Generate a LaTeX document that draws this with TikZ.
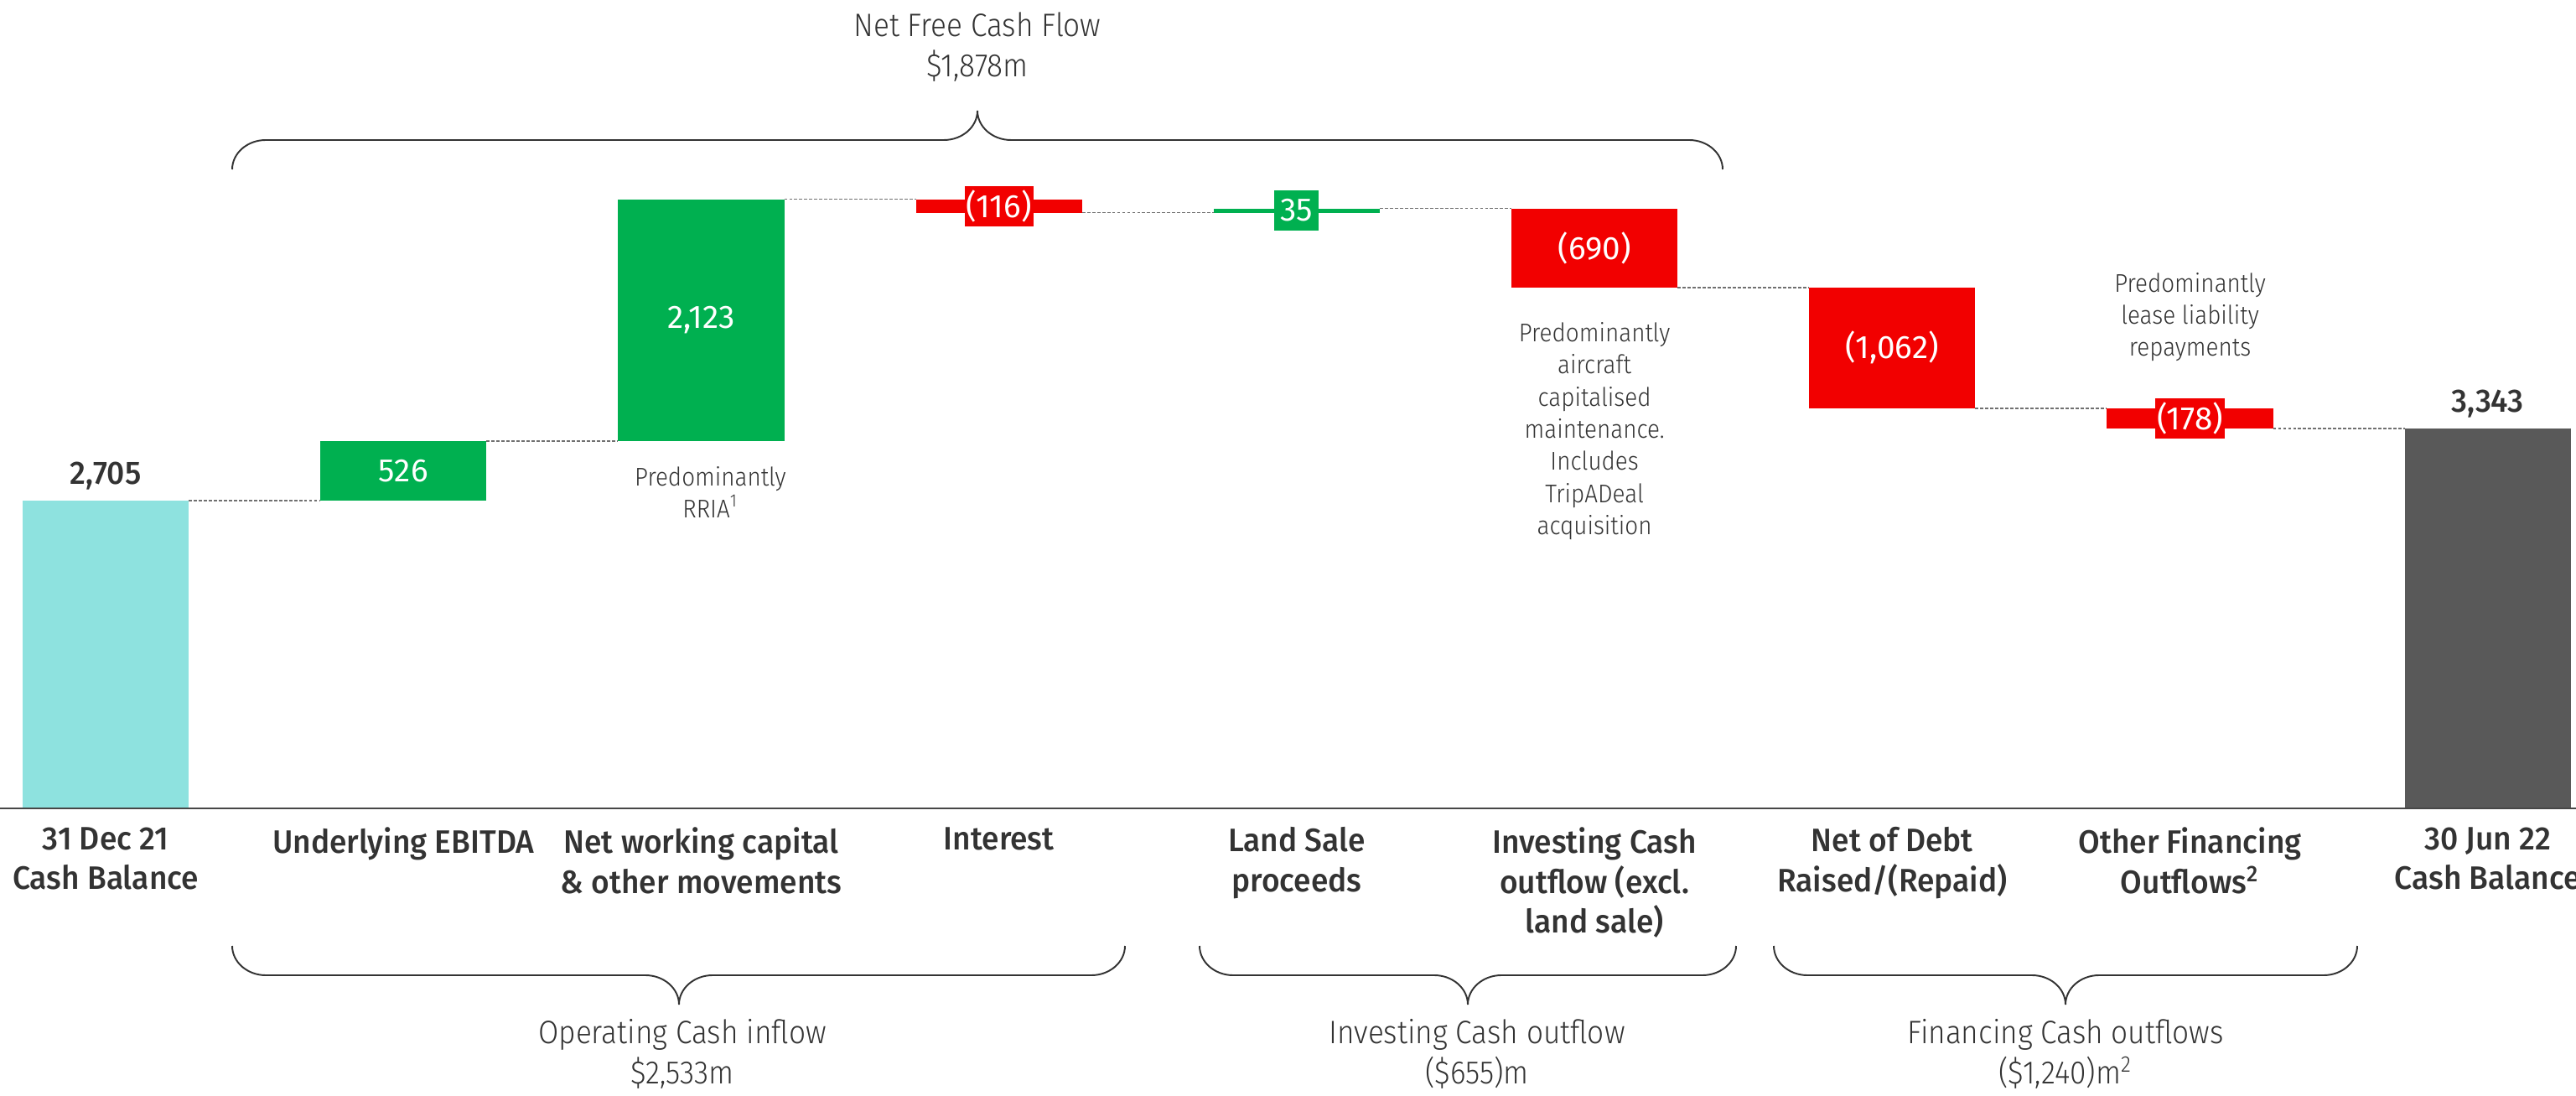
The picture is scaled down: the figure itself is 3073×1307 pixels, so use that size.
\documentclass[tikz,border=0pt]{standalone}
\usepackage{fontspec}
\setmainfont{Fira Sans}
\newfontfamily\lightfont{Fira Sans Light}[FakeStretch=0.91]
\newfontfamily\medfont{Fira Sans Medium}[FakeStretch=0.96]
\usepackage{xcolor}
\usepackage{tikz}
\usetikzlibrary{positioning, calc}

\definecolor{cashcyan}{HTML}{8EE2DF}
\definecolor{gaingreen}{HTML}{00B050}
\definecolor{lossred}{HTML}{F20000}
\definecolor{closegray}{HTML}{595959}
\definecolor{inkgray}{HTML}{333333}
\definecolor{dashgray}{HTML}{707070}

\tikzset{
  wfbar/.style={draw=none, minimum width=1.98cm, inner sep=0pt, outer sep=0pt, text=white, font=\fontsize{11}{13.2}\selectfont},
  tagbox/.style={inner xsep=0.02cm, inner ysep=0pt, outer sep=0pt, minimum height=0.48cm, minimum width=0.53cm, text=white, font=\fontsize{11}{13.2}\selectfont},
  wflink/.style={dashgray, line width=0.5pt, dash pattern=on 1.1pt off 0.6pt},
  catlabel/.style={anchor=north, align=center, inner sep=0pt, text=inkgray, font=\medfont\fontsize{11}{13.5}\selectfont},
  totallabel/.style={inner sep=0pt, text depth=0pt, text=inkgray, font=\medfont\fontsize{11}{13.2}\selectfont},
  notetext/.style={align=center, inner sep=0pt, text=inkgray, font=\lightfont\fontsize{8.7}{10.9}\selectfont},
  bracelabel/.style={align=center, inner sep=0pt, text=inkgray, font=\lightfont\fontsize{11}{13.6}\selectfont},
  bracepath/.style={draw=inkgray, line width=0.55pt},
}

% brace: name, left x, tip x, right x, end y, half height
\newcommand{\cashbrace}[6]{%
  \draw[bracepath] (#2,#5) .. controls (#2,{#5+0.55*(#6)}) and ({#2+18},{#5+(#6)}) .. ({#2+40},{#5+(#6)})
    -- ({#3-40},{#5+(#6)}) .. controls ({#3-18},{#5+(#6)}) and (#3,{#5+1.45*(#6)}) .. (#3,{#5+2*(#6)})
    .. controls (#3,{#5+1.45*(#6)}) and ({#3+18},{#5+(#6)}) .. ({#3+40},{#5+(#6)})
    -- ({#4-40},{#5+(#6)}) .. controls ({#4-18},{#5+(#6)}) and (#4,{#5+0.55*(#6)}) .. (#4,#5);
  \coordinate (#1) at (#3,{#5+2*(#6)});
}

\begin{document}
\begin{tikzpicture}[x=0.01cm, y=-0.01cm, node distance=1.57cm]
    \useasboundingbox (0,0) rectangle (3073,1307);

    % Waterfall bars, each one hung from the end of the previous
    \node [wfbar, fill=cashcyan, minimum height=3.67cm, anchor=south west] (open) at (27,964) {};
    \node [wfbar, fill=gaingreen, minimum height=0.71cm, right=of open.north east, anchor=south west] (ebitda) {526};
    \node [wfbar, fill=gaingreen, minimum height=2.88cm, right=of ebitda.north east, anchor=south west] (nwc) {2,123};
    \node [wfbar, fill=lossred, minimum height=0.16cm, right=of nwc.north east, anchor=north west] (interest) {};
    \node [wfbar, fill=gaingreen, minimum height=0.05cm, right=of interest.south east, anchor=south west] (land) {};
    \node [wfbar, fill=lossred, minimum height=0.94cm, right=of land.north east, anchor=north west] (invest) {(690)};
    \node [wfbar, fill=lossred, minimum height=1.44cm, right=of invest.south east, anchor=north west] (debt) {(1,062)};
    \node [wfbar, fill=lossred, minimum height=0.24cm, right=of debt.south east, anchor=north west] (other) {};
    \node [wfbar, fill=closegray, minimum height=4.52cm, right=of other.south east, anchor=north west] (close) {};

    % Value tags on the thin bars
    \node [tagbox, fill=lossred] (interesttag) at (interest) {(116)};
    \node [tagbox, fill=gaingreen] (landtag) at (land) {35};
    \node [tagbox, fill=lossred] (othertag) at (other) {(178)};

    % Balances
    \node [totallabel, above=0.19cm of open] (openval) {2,705};
    \node [totallabel, above=0.19cm of close] (closeval) {3,343};

    % Dashed step lines
    \draw [wflink] (open.north east) -- (ebitda.south west);
    \draw [wflink] (ebitda.north east) -- (nwc.south west);
    \draw [wflink] (nwc.north east) -- (interest.north west);
    \draw [wflink] (interest.south east) -- (land.south west);
    \draw [wflink] (land.north east) -- (invest.north west);
    \draw [wflink] (invest.south east) -- (debt.north west);
    \draw [wflink] (debt.south east) -- (other.north west);
    \draw [wflink] (other.south east) -- (close.north west);

    % Axis
    \draw [draw=inkgray!90, line width=0.7pt] (0,964) -- (3073,964);

    % Category labels
    \node [catlabel, below=0.22cm of open] (opencat) {31 Dec 21\\Cash Balance};
    \node [catlabel] (ebitdacat) at (ebitda |- opencat.north) {Underlying EBITDA};
    \node [catlabel] (nwccat) at (nwc |- opencat.north) {Net working capital\\\& other movements};
    \node [catlabel] (interestcat) at (interest |- opencat.north) {Interest};
    \node [catlabel] (landcat) at (land |- opencat.north) {Land Sale\\proceeds};
    \node [catlabel] (investcat) at (invest |- opencat.north) {Investing Cash\\outflow (excl.\\land sale)};
    \node [catlabel] (debtcat) at (debt |- opencat.north) {Net of Debt\\Raised/(Repaid)};
    \node [catlabel] (othercat) at (other |- opencat.north) {Other Financing\\Outflows\textsuperscript{2}};
    \node [catlabel] (closecat) at (close |- opencat.north) {30 Jun 22\\Cash Balance};

    % Notes
    \node [notetext, below=0.30cm of nwc, xshift=0.11cm] (rrianote) {Predominantly\\RRIA\textsuperscript{1}};
    \node [notetext, below=0.41cm of invest] (capexnote) {Predominantly\\aircraft\\capitalised\\maintenance.\\Includes\\TripADeal\\acquisition};
    \node [notetext, above=0.43cm of othertag] (leasenote) {Predominantly\\lease liability\\repayments};

    % Braces and their totals
    \cashbrace{fcftip}{277}{1166}{2055}{202}{-35}
    \cashbrace{optip}{277}{810}{1342}{1128}{35}
    \cashbrace{invtip}{1431}{1751}{2071}{1128}{35}
    \cashbrace{fintip}{2116}{2464}{2812}{1128}{35}
    \node [bracelabel, above=0.34cm of fcftip] (fcflabel) {Net Free Cash Flow\\\$1,878m};
    \node [bracelabel, below=0.17cm of optip, xshift=0.04cm] (oplabel) {Operating Cash inflow\\\$2,533m};
    \node [bracelabel, below=0.17cm of invtip, xshift=0.11cm] (invlabel) {Investing Cash outflow\\(\$655)m};
    \node [bracelabel, below=0.17cm of fintip] (finlabel) {Financing Cash outflows\\(\$1,240)m\textsuperscript{2}};

\end{tikzpicture}
\end{document}
